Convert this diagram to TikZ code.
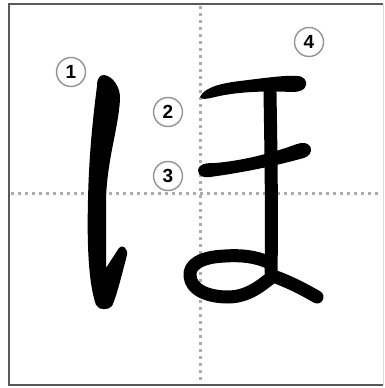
\documentclass[tikz,border=0pt]{standalone}
\usepackage{fontspec}
\setmainfont{Liberation Sans}
\begin{document}
\begin{tikzpicture}[x=1pt,y=-1pt,
  numcirc/.style={circle, draw=gray!85, line width=1.4pt, minimum size=29pt, inner sep=0pt, font=\bfseries\fontsize{19}{19}\selectfont},
  guide/.style={draw=gray!65, line width=3pt, dash pattern=on 3pt off 4pt},
  brush/.style={line width=13pt, line cap=round, line join=round},
  frameline/.style={draw=gray!70!black, line width=2pt}]
\useasboundingbox (0,0) rectangle (385,388);
% guides
\draw[guide] (200,6) -- (200,384);
\draw[guide] (11,193) -- (381,193);
% frame
\draw[frameline] (383,4) -- (9,4) -- (9,385) -- (383,385);
\draw[draw=gray!30, line width=1pt] (383,4) -- (383,385);
% stroke 1
\fill (104,75) .. controls (113,76) and (121,88) .. (120,100)
  .. controls (118,130) and (107,160) .. (106,200)
  -- (106,268) -- (119,248)
  .. controls (122,244) and (128,248) .. (127,255)
  .. controls (121,278) and (116,298) .. (112,306)
  .. controls (109,310) and (99,311) .. (96,305)
  .. controls (88,282) and (87,240) .. (88,200)
  .. controls (89,150) and (94,110) .. (97,86)
  .. controls (97,78) and (100,75) .. (104,75) -- cycle;
% stroke 2
\fill (200,97) .. controls (204,89) and (215,84) .. (240,81)
  .. controls (265,78) and (285,75) .. (297,76)
  .. controls (304,76) and (307,81) .. (306,85)
  .. controls (305,90) and (300,92) .. (292,92)
  .. controls (270,91) and (240,91) .. (215,97)
  .. controls (207,99) and (201,100) .. (200,97) -- cycle;
% stroke 3
\fill (198,170) .. controls (199,164) and (205,163) .. (215,163)
  .. controls (240,161) and (270,154) .. (297,144)
  .. controls (306,141) and (312,145) .. (311,151)
  .. controls (310,156) and (305,158) .. (300,159)
  .. controls (275,166) and (240,173) .. (210,177)
  .. controls (203,178) and (198,176) .. (198,170) -- cycle;
% stroke 4
\draw[brush] (270,93) .. controls (271,150) and (272,220) .. (271,272);
\draw[brush] (270,263) .. controls (255,256) and (240,255) .. (225,256)
  .. controls (200,257) and (189,265) .. (190,276)
  .. controls (191,290) and (208,297) .. (228,297)
  .. controls (248,297) and (262,285) .. (273,276)
  .. controls (290,282) and (305,290) .. (317,297);
% stroke numbers
\node[numcirc] (n1) at (71,72) {1};
\node[numcirc] (n2) at (168,112) {2};
\node[numcirc] (n3) at (168,176) {3};
\node[numcirc] (n4) at (309,42) {4};
\end{tikzpicture}
\end{document}
